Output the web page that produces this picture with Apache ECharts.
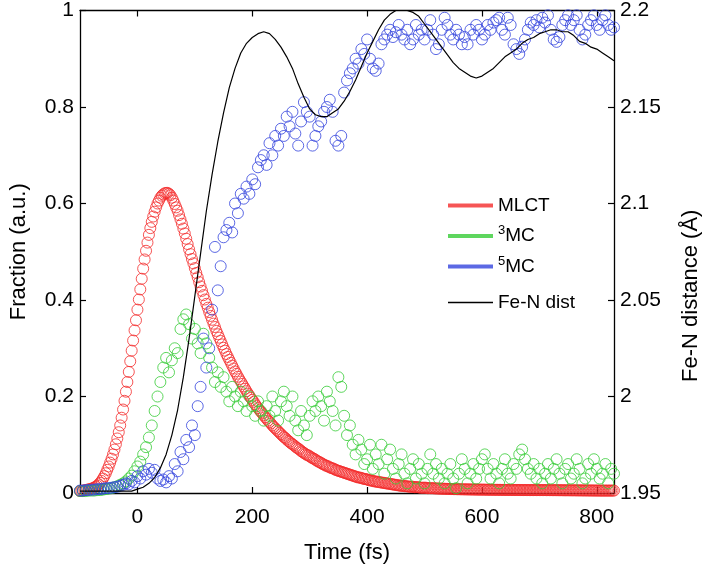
<!DOCTYPE html>
<html>
<head>
<meta charset="utf-8">
<script src="https://cdn.jsdelivr.net/npm/echarts@6/dist/echarts.min.js"></script>
<style>
html,body{margin:0;padding:0;background:#fff;}
#chart{width:710px;height:569px;}
</style>
</head>
<body>
<div id="chart"></div>
<script>
// sampling grids (fs)
const T0 = -100;
const DT_MLCT = 2.5;   // MLCT fit sampled every 2.5 fs
const DT_POP = 5;      // 3MC / 5MC sampled every 5 fs
const DT_LINE = 10;    // Fe-N distance every 10 fs

const xTicks = [0, 200, 400, 600, 800];
const yLeftTicks = [0, 0.2, 0.4, 0.6, 0.8, 1];
const yRightTicks = [1.95, 2, 2.05, 2.1, 2.15, 2.2];

// MLCT population (every 2.5 fs from -100 fs)
const mlct = [
  .004,.0045,.005,.0055,.006,.0067,.0075,.0082,.009,.010,.0115,.013,.015,.018,.021,.025,.030,.035,.041,.048,
  .055,.063,.071,.080,.090,.101,.113,.126,.140,.156,.173,.191,.210,.230,.251,.273,.295,.316,.337,.358,
  .380,.401,.422,.444,.465,.484,.502,.519,.535,.549,.562,.573,.583,.592,.600,.606,.612,.616,.619,.621,
  .622,.622,.620,.617,.612,.606,.599,.592,.585,.576,.567,.558,.548,.538,.527,.516,.505,.495,.485,.476,
  .466,.456,.447,.437,.428,.419,.410,.401,.392,.384,.375,.367,.359,.351,.344,.336,.329,.322,.315,.308,
  .301,.295,.288,.282,.276,.270,.264,.258,.252,.247,.241,.236,.231,.226,.221,.216,.211,.206,.202,.197,
  .193,.189,.184,.180,.176,.172,.168,.165,.161,.157,.154,.150,.147,.144,.140,.137,.134,.131,.128,.125,
  .122,.119,.116,.114,.111,.108,.106,.103,.101,.099,.096,.094,.092,.090,.087,.085,.083,.081,.079,.078,
  .076,.074,.072,.071,.069,.067,.065,.064,.062,.060,.059,.057,.056,.055,.053,.052,.051,.050,.048,.047,
  .046,.045,.044,.043,.042,.041,.040,.039,.038,.037,.036,.035,.034,.033,.032,.032,.031,.030,.029,.029,
  .028,.027,.026,.026,.025,.024,.024,.023,.023,.022,.022,.021,.021,.020,.020,.019,.019,.018,.018,.017,
  .017,.016,.016,.015,.015,.015,.014,.014,.014,.013,.013,.013,.013,.012,.012,.012,.012,.011,.011,.011,
  .011,.011,.010,.010,.010,.010,.0098,.0096,.0095,.0093,.0092,.0091,.009,.0089,.0088,.0087,.0085,.0084,.0083,.0082,
  .008,.008,.0079,.0078,.0078,.0077,.0076,.0076,.0075,.0075,.0074,.0074,.0073,.0073,.0072,.0072,.0071,.0071,.007,.007,
  .007,.007,.0069,.0069,.0068,.0068,.0068,.0067,.0067,.0067,.0066,.0066,.0066,.0065,.0065,.0065,.0064,.0064,.0064,.0063,
  .0063,.0063,.0063,.0062,.0062,.0062,.0062,.0061,.0061,.0061,.0061,.0061,.006,.006,.006,.006,.006,.006,.006,.006,
  .006,.006,.006,.006,.006,.0059,.0059,.0059,.0059,.0058,.0058,.0058,.0058,.0057,.0057,.0057,.0057,.0056,.0056,.0056,
  .0056,.0056,.0055,.0055,.0055,.0055,.0054,.0054,.0054,.0054,.0053,.0053,.0053,.0053,.0052,.0052,.0052,.0052,.0051,.0051,
  .0051,.0051,.005,.005,.005,.005,.005,.005,.005,.005,.005,.005,.005
];

// 3MC population (every 5 fs from -100 fs)
const mc3 = [
  .004,.004,.004,.005,.005,.005,.006,.006,.007,.008,
  .009,.010,.012,.014,.017,.020,.024,.030,.036,.045,
  .055,.065,.080,.095,.115,.140,.170,.200,.230,.260,
  .280,.250,.275,.300,.290,.340,.360,.370,.350,.320,
  .340,.310,.290,.330,.310,.280,.260,.230,.250,.220,
  .240,.210,.190,.220,.200,.180,.210,.190,.170,.200,
  .180,.160,.190,.170,.150,.180,.160,.200,.170,.150,
  .190,.210,.180,.160,.200,.150,.130,.170,.140,.120,
  .160,.190,.170,.200,.180,.150,.210,.190,.170,.140,
  .240,.220,.160,.120,.140,.100,.080,.110,.090,.060,
  .070,.100,.050,.080,.060,.100,.040,.070,.090,.050,
  .030,.060,.080,.040,.020,.050,.070,.030,.060,.040,
  .020,.050,.080,.040,.060,.030,.050,.020,.040,.060,
  .030,.010,.040,.070,.050,.020,.040,.060,.030,.050,
  .070,.080,.050,.030,.060,.040,.020,.050,.070,.040,
  .030,.060,.050,.080,.090,.070,.050,.040,.060,.030,
  .050,.020,.040,.060,.030,.050,.070,.040,.020,.050,
  .060,.030,.040,.070,.050,.020,.030,.060,.040,.070,
  .050,.030,.040,.060,.020,.050,.040
];

// 5MC population (every 5 fs from -100 fs)
const mc5 = [
  .005,.005,.006,.006,.007,.007,.008,.008,.009,.010,
  .010,.011,.012,.013,.015,.017,.020,.018,.025,.022,
  .035,.030,.045,.038,.050,.042,.048,.030,.025,.028,
  .022,.035,.030,.060,.045,.085,.070,.110,.095,.140,
  .120,.180,.220,.320,.260,.300,.380,.510,.420,.470,
  .530,.545,.560,.540,.600,.580,.620,.610,.635,.620,
  .650,.640,.675,.690,.700,.680,.725,.700,.740,.720,
  .755,.740,.780,.760,.790,.745,.720,.770,.810,.790,
  .780,.720,.740,.760,.770,.790,.800,.815,.790,.730,
  .720,.740,.830,.855,.870,.880,.900,.890,.920,.910,
  .940,.900,.880,.875,.890,.930,.940,.950,.960,.945,
  .955,.970,.950,.940,.960,.930,.940,.970,.950,.960,
  .940,.960,.980,.950,.920,.930,.960,.985,.970,.950,
  .940,.960,.950,.930,.945,.930,.960,.950,.970,.960,
  .940,.950,.970,.960,.975,.980,.985,.960,.950,.985,
  .970,.930,.920,.910,.925,.940,.960,.975,.970,.980,
  .965,.985,.975,.990,.960,.940,.935,.945,.970,.980,
  .990,.970,.980,.990,.960,.940,.950,.970,.980,.990,
  .970,.960,.980,.990,.970,.960,.965
];

// Fe-N distance (Å), every 10 fs from -100 fs
const feN = [
  1.951,1.951,1.951,1.951,1.951,1.951,1.951,1.951,1.951,1.951,
  1.952,1.953,1.955,1.958,1.963,1.970,1.980,1.993,2.010,2.030,
  2.052,2.074,2.096,2.115,2.132,2.147,2.160,2.170,2.178,2.183,
  2.186,2.188,2.189,2.188,2.185,2.181,2.176,2.170,2.162,2.155,
  2.149,2.146,2.145,2.145,2.147,2.149,2.153,2.158,2.164,2.171,
  2.178,2.184,2.190,2.195,2.198,2.200,2.200,2.200,2.199,2.197,
  2.193,2.189,2.185,2.181,2.177,2.173,2.170,2.168,2.166,2.165,
  2.166,2.168,2.170,2.173,2.176,2.178,2.180,2.183,2.185,2.186,
  2.188,2.189,2.190,2.190,2.189,2.189,2.187,2.184,2.183,2.181,
  2.180,2.178,2.176,2.174
];

const COLORS = { mlct: '#f42a2a', mc3: '#36cc36', mc5: '#3344dd', feN: '#000000' };

function pairs(arr, t0, dt) { return arr.map((v, i) => [t0 + i * dt, v]); }

const chart = echarts.init(document.getElementById('chart'), null, { renderer: 'canvas' });
const FONT = 'Liberation Sans, Arial, sans-serif';

function scatter(name, data, dt, color) {
  return {
    name, type: 'scatter', xAxisIndex: 0, yAxisIndex: 0,
    data: pairs(data, T0, dt),
    symbol: 'circle', symbolSize: 11,
    itemStyle: { color: 'rgba(0,0,0,0)', borderColor: color, borderWidth: 1 },
    emphasis: { disabled: true }, silent: true
  };
}

const legendText = {
  fontSize: 19, fontFamily: FONT, color: '#000',
  rich: {
    n: { fontSize: 19, fontFamily: FONT, color: '#000', lineHeight: 24 },
    s: { fontSize: 13, fontFamily: FONT, color: '#000', lineHeight: 14, verticalAlign: 'top', padding: [0, 0, 4, 0] }
  }
};
function legendFmt(name) {
  if (name === '3MC') return '{s|3}{n|MC}';
  if (name === '5MC') return '{s|5}{n|MC}';
  return '{n|' + name + '}';
}

const axisLineStyle = { color: '#000', width: 1.3 };
const tickStyle = { color: '#000', width: 1.2 };

chart.setOption({
  animation: false,
  backgroundColor: '#fff',
  grid: { left: 76, right: 87, top: 10, bottom: 76, containLabel: false },
  legend: [
    {
      orient: 'vertical', left: 443, top: 191, itemWidth: 45, itemHeight: 4, itemGap: 9,
      selectedMode: false, formatter: legendFmt, textStyle: legendText,
      data: [
        { name: 'MLCT', icon: 'rect', itemStyle: { color: COLORS.mlct, borderWidth: 0 } },
        { name: '3MC', icon: 'rect', itemStyle: { color: COLORS.mc3, borderWidth: 0 } },
        { name: '5MC', icon: 'rect', itemStyle: { color: COLORS.mc5, borderWidth: 0 } }
      ]
    },
    {
      orient: 'vertical', left: 443, top: 288, itemWidth: 45, itemHeight: 1.4,
      selectedMode: false, formatter: legendFmt, textStyle: legendText,
      data: [{ name: 'Fe-N dist', icon: 'rect', itemStyle: { color: '#000', borderWidth: 0 } }]
    }
  ],
  xAxis: [
    {
      type: 'value', position: 'bottom', min: -100, max: 830,
      axisLine: { show: true, onZero: false, lineStyle: axisLineStyle },
      axisTick: { show: true, inside: true, length: 6, customValues: xTicks, lineStyle: tickStyle },
      axisLabel: { customValues: xTicks, fontSize: 21, fontFamily: 'Liberation Sans Narrow, Liberation Sans, Arial', color: '#000', margin: 14 },
      splitLine: { show: false },
      name: 'Time (fs)', nameLocation: 'middle', nameGap: 49,
      nameTextStyle: { fontSize: 22, fontFamily: FONT, color: '#000' }
    },
    {
      type: 'value', position: 'top', min: -100, max: 830,
      axisLine: { show: true, onZero: false, lineStyle: axisLineStyle },
      axisTick: { show: true, inside: true, length: 6, customValues: xTicks, lineStyle: tickStyle },
      axisLabel: { show: false },
      splitLine: { show: false }
    }
  ],
  yAxis: [
    {
      type: 'value', position: 'left', min: 0, max: 1,
      axisLine: { show: true, onZero: false, lineStyle: axisLineStyle },
      axisTick: { show: true, inside: true, length: 6, customValues: yLeftTicks, lineStyle: tickStyle },
      axisLabel: { customValues: yLeftTicks, fontSize: 21, fontFamily: FONT, color: '#000', margin: 6 },
      splitLine: { show: false },
      name: 'Fraction (a.u.)', nameLocation: 'middle', nameGap: 50,
      nameTextStyle: { fontSize: 22, fontFamily: FONT, color: '#000' }
    },
    {
      type: 'value', position: 'right', min: 1.95, max: 2.2,
      axisLine: { show: true, onZero: false, lineStyle: axisLineStyle },
      axisTick: { show: true, inside: true, length: 6, customValues: yRightTicks, lineStyle: tickStyle },
      axisLabel: { customValues: yRightTicks, fontSize: 21, fontFamily: FONT, color: '#000', margin: 6,
        formatter: v => String(Math.round(v * 100) / 100) },
      splitLine: { show: false },
      name: 'Fe-N distance (Å)', nameLocation: 'middle', nameGap: 66,
      nameTextStyle: { fontSize: 22, fontFamily: FONT, color: '#000', padding: [0, 88, 0, 0] }
    }
  ],
  series: [
    scatter('MLCT', mlct, DT_MLCT, COLORS.mlct),
    scatter('3MC', mc3, DT_POP, COLORS.mc3),
    scatter('5MC', mc5, DT_POP, COLORS.mc5),
    {
      name: 'Fe-N dist', type: 'line', xAxisIndex: 0, yAxisIndex: 1,
      data: pairs(feN, T0, DT_LINE),
      showSymbol: false, symbol: 'none', smooth: false,
      lineStyle: { color: COLORS.feN, width: 1.2 },
      itemStyle: { color: COLORS.feN },
      emphasis: { disabled: true }, silent: true
    }
  ]
});
</script>
</body>
</html>
